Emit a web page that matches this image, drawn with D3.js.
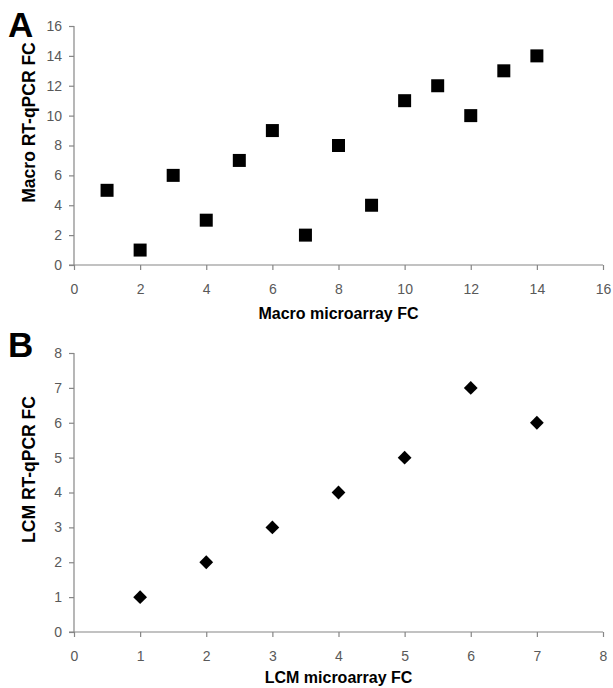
<!DOCTYPE html>
<html>
<head>
<meta charset="utf-8">
<script src="https://cdn.jsdelivr.net/npm/d3@7"></script>
<style>
  html, body { margin: 0; padding: 0; background: #fff; }
  svg { display: block; }
  .tick text { font-family: "Liberation Sans", Arial, sans-serif; font-size: 14px; fill: #595959; }
  .axis path, .axis line { stroke: #868686; stroke-width: 1.2; }
  .title { font-family: "Liberation Sans", Arial, sans-serif; font-weight: bold; font-size: 16px; fill: #000; }
  .ytitle { font-size: 17.5px; }
  .panel { font-family: "Liberation Sans", Arial, sans-serif; font-weight: bold; font-size: 35px; fill: #000; }
</style>
</head>
<body>
<svg id="chart" width="613" height="688"></svg>
<script>
// panel A data
const macroMicro = [1, 2, 3, 4, 5, 6, 7, 8, 9, 10, 11, 12, 13, 14];
const macroQpcr  = [5, 1, 6, 3, 7, 9, 2, 8, 4, 11, 12, 10, 13, 14];
const macroTicks = [0, 2, 4, 6, 8, 10, 12, 14, 16];

// panel B data
const lcmMicro = [1, 2, 3, 4, 5, 6, 7];
const lcmQpcr  = [1, 2, 3, 4, 5, 7, 6];
const lcmTicks = [0, 1, 2, 3, 4, 5, 6, 7, 8];

const svg = d3.select('#chart');

// draws one scatter panel
function drawPanel(opts) {
    const x = d3.scaleLinear().domain([0, opts.max]).range([74, 603]);
    const y = d3.scaleLinear().domain([0, opts.max]).range([opts.bottom, opts.top]);

    const g = svg.append('g');

    g.append('g')
        .attr('class', 'axis')
        .attr('transform', 'translate(0,' + opts.bottom + ')')
        .call(d3.axisBottom(x).tickValues(opts.ticks).tickSizeInner(5).tickSizeOuter(0).tickPadding(opts.xPad))
        .select('.domain').attr('d', 'M' + (x(0) - 5) + ',0H' + x(opts.max));

    g.append('g')
        .attr('class', 'axis')
        .attr('transform', 'translate(74,0)')
        .call(d3.axisLeft(y).tickValues(opts.ticks).tickSizeInner(5).tickSizeOuter(0).tickPadding(7))
        .select('.domain').attr('d', 'M0,' + y(opts.max) + 'V' + y(0));

    // markers
    const sym = d3.symbol().type(d3.symbolSquare).size(opts.symSize);
    g.selectAll('.pt')
        .data(opts.xs.map((v, i) => [v, opts.ys[i]]))
        .enter()
        .append('path')
        .attr('class', 'pt')
        .attr('d', sym)
        .attr('fill', '#000')
        .attr('transform', d => 'translate(' + x(d[0]) + ',' + y(d[1]) + ') rotate(' + opts.rot + ')');

    // axis titles
    g.append('text')
        .attr('class', 'title')
        .attr('x', (x(0) + x(opts.max)) / 2)
        .attr('y', opts.bottom + opts.xTitleOff)
        .attr('text-anchor', 'middle')
        .text(opts.xTitle);

    g.append('text')
        .attr('class', 'title ytitle')
        .attr('transform', 'translate(35,' + ((opts.top + opts.bottom) / 2 - 23) + ') rotate(-90)')
        .attr('text-anchor', 'middle')
        .text(opts.yTitle);

    g.append('text')
        .attr('class', 'panel')
        .attr('x', 8)
        .attr('y', opts.letterY)
        .text(opts.letter);
}

drawPanel({
    xs: macroMicro, ys: macroQpcr, ticks: macroTicks, max: 16,
    top: 26, bottom: 265, xPad: 14, xTitleOff: 54,
    symSize: 169, rot: 0,
    xTitle: 'Macro microarray FC', yTitle: 'Macro RT-qPCR FC',
    letter: 'A', letterY: 37
});

drawPanel({
    xs: lcmMicro, ys: lcmQpcr, ticks: lcmTicks, max: 8,
    top: 353, bottom: 632, xPad: 14, xTitleOff: 51,
    symSize: 95, rot: 45,
    xTitle: 'LCM microarray FC', yTitle: 'LCM RT-qPCR FC',
    letter: 'B', letterY: 357
});
</script>
</body>
</html>
